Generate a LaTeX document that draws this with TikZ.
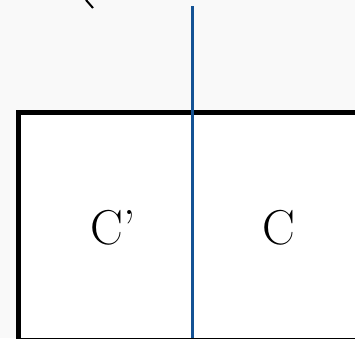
\documentclass[tikz,border=0pt]{standalone}
\definecolor{splitblue}{RGB}{20,82,148}
\definecolor{bggray}{RGB}{249,249,249}
\begin{document}
\begin{tikzpicture}[x=1pt, y=-1pt,
  frame/.style={draw, line width=5pt, fill=white},
  divider/.style={draw=splitblue, line width=3pt},
  letter/.style={font=\fontsize{49}{54}\selectfont, inner sep=0pt}
]
  \fill[bggray] (0,0) rectangle (355,338);
  \clip (0,0) rectangle (355,338);
  % frame split in two halves
  \draw[frame] (18,112) rectangle (372,340);
  \node[letter] (cprime) at (113,228) {C’};
  \node[letter] (cright) at (279,228) {C};
  % vertical divider
  \coordinate (divtop) at (192.5,6);
  \coordinate (divbot) at (192.5,338);
  \draw[divider] (divtop) -- (divbot);
  % small stroke at the top
  \coordinate (tickA) at (86,0);
  \coordinate (tickB) at (93,8);
  \draw[line width=2pt] (tickA) -- (tickB);
\end{tikzpicture}
\end{document}
